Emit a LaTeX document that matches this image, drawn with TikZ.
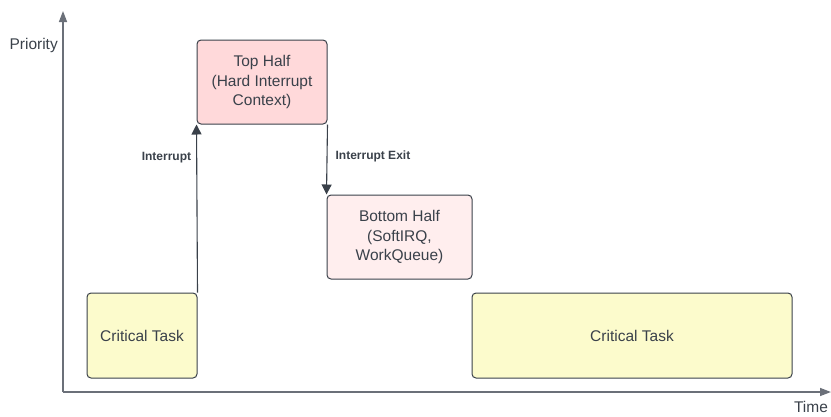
\documentclass[tikz,border=0pt]{standalone}
\usepackage{fontspec}
\setmainfont{Liberation Sans}
\usetikzlibrary{arrows.meta,positioning}

\definecolor{inkgray}{HTML}{3A414A}
\definecolor{axisgray}{HTML}{6B7079}
\definecolor{taskyellow}{HTML}{FCFBCC}
\definecolor{tophalfred}{HTML}{FFD9DA}
\definecolor{bottomhalfred}{HTML}{FFEEEE}

\tikzset{
    phase/.style={draw=inkgray,line width=1pt,rounded corners=4pt,text=inkgray,
        align=center,font=\fontsize{15.5}{19.5}\selectfont,inner sep=0pt},
    flow/.style={draw=inkgray,line width=1.1pt,-{Triangle[length=10pt,width=10pt]}},
    flowlabel/.style={text=inkgray,font=\fontsize{12}{14}\bfseries\selectfont,inner sep=0pt}
}

\begin{document}
\begin{tikzpicture}[x=1pt,y=-1pt]
    \useasboundingbox (0,0) rectangle (831,416);

    % axes
    \coordinate (origin) at (63,392);
    \coordinate (tmax)   at (831,392);
    \coordinate (pmax)   at (63,11);
    \draw [axisgray,line width=1.4pt,-{Triangle[length=11pt,width=8pt]}] (origin) -- (tmax);
    \draw [axisgray,line width=1.4pt,-{Triangle[length=11pt,width=8pt]}] (origin) -- (pmax);
    \node [text=inkgray,font=\fontsize{15.5}{17}\selectfont,anchor=east,inner sep=0pt] (prio) at (58,45) {Priority};
    \node [text=inkgray,font=\fontsize{15.5}{17}\selectfont,inner sep=0pt] (time) at (811,407) {Time};

    % phases
    \node [phase,fill=taskyellow,minimum width=110pt,minimum height=85pt]    (task1)  at (142,335.5) {Critical Task};
    \node [phase,fill=tophalfred,minimum width=130pt,minimum height=84pt]    (top)    at (262,82)    {Top Half\\(Hard Interrupt\\Context)};
    \node [phase,fill=bottomhalfred,minimum width=145pt,minimum height=84pt] (bottom) at (399.5,237) {Bottom Half\\(SoftIRQ,\\WorkQueue)};
    \node [phase,fill=taskyellow,minimum width=320pt,minimum height=85pt]    (task2)  at (632,335.5) {Critical Task};

    % transitions
    \draw [flow] (task1.north east) -- (top.south west)
        node [flowlabel,pos=0.8,anchor=east,xshift=-5pt] (irq) {Interrupt};
    \draw [flow] (top.south east) -- (bottom.north west)
        node [flowlabel,pos=0.46,anchor=west,xshift=8pt] (irqexit) {Interrupt Exit};
\end{tikzpicture}
\end{document}
